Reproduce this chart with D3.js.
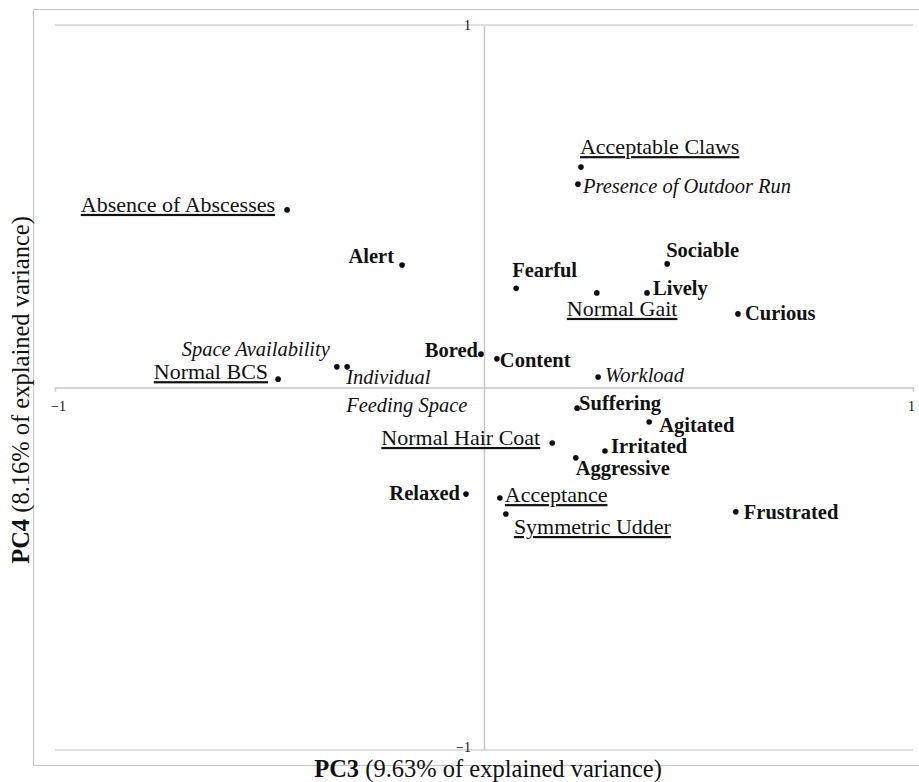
<!DOCTYPE html>
<html>
<head>
<meta charset="utf-8">
<script src="https://cdn.jsdelivr.net/npm/d3@7"></script>
<style>
  body { margin: 0; background: #fff; }
  text { font-family: "Liberation Serif", "Times New Roman", serif; fill: #111; }
</style>
</head>
<body>
<div id="chart"></div>
<script>
// loadings on PC3 / PC4
var names = ["Acceptable Claws", "Presence of Outdoor Run", "Absence of Abscesses", "Alert",
  "Sociable", "Fearful", "Normal Gait", "Lively", "Curious", "Bored", "Content",
  "Space Availability", "Individual Feeding Space", "Normal BCS", "Workload", "Suffering",
  "Agitated", "Normal Hair Coat", "Irritated", "Aggressive", "Relaxed", "Acceptance",
  "Symmetric Udder", "Frustrated"];
var pc3 = [0.226, 0.219, -0.459, -0.191, 0.427, 0.075, 0.263, 0.380, 0.592, -0.007, 0.030,
  -0.343, -0.319, -0.480, 0.266, 0.217, 0.385, 0.159, 0.282, 0.214, -0.042, 0.037, 0.051, 0.587];
var pc4 = [0.608, 0.561, 0.490, 0.338, 0.341, 0.274, 0.261, 0.261, 0.203, 0.092, 0.079,
  0.057, 0.057, 0.023, 0.029, -0.057, -0.095, -0.153, -0.175, -0.194, -0.294, -0.305, -0.349, -0.343];
// q = QBA term (bold), a = animal-based measure (underlined), r = resource-based (italic)
var kind = ["a", "r", "a", "q", "q", "q", "a", "q", "q", "q", "q",
  "r", "r", "a", "r", "q", "q", "a", "q", "q", "q", "a", "a", "q"];
var axisTicks = [-1, 1];
var xTitle = ["PC3", " (9.63% of explained variance)"];
var yTitle = ["PC4", " (8.16% of explained variance)"];

// label placement: anchor, dx, dy
var labelPos = {
  "Acceptable Claws": ["start", -1, -13],
  "Presence of Outdoor Run": ["start", 5, 9],
  "Absence of Abscesses": ["end", -12, 2],
  "Alert": ["end", -8, -2],
  "Sociable": ["start", -1, -7],
  "Fearful": ["start", -4, -11],
  "Normal Gait": ["start", -30, 23],
  "Lively": ["start", 6, 2],
  "Curious": ["start", 7, 6],
  "Bored": ["end", -3, 3],
  "Content": ["start", 3, 8],
  "Space Availability": ["end", -7, -11],
  "Individual Feeding Space": ["start", -1, 17],
  "Normal BCS": ["end", -10, 0],
  "Workload": ["start", 7, 5],
  "Suffering": ["start", 2, 2],
  "Agitated": ["start", 10, 10],
  "Normal Hair Coat": ["end", -12, 2],
  "Irritated": ["start", 6, 2],
  "Aggressive": ["start", 0, 17],
  "Relaxed": ["end", -6, 6],
  "Acceptance": ["start", 5, 4],
  "Symmetric Udder": ["start", 8, 20],
  "Frustrated": ["start", 8, 7]
};
var fontByKind = { q: "20.5px", a: "22px", r: "20.5px" };

var width = 919, height = 782;

var svg = d3.select("#chart").append("svg")
  .attr("width", width)
  .attr("height", height);

var x = d3.scaleLinear().domain([-1, 1]).range([55, 913]);
var y = d3.scaleLinear().domain([-1, 1]).range([750, 25]);

// outer frame
svg.append("rect")
  .attr("x", 33.5).attr("y", 9.5)
  .attr("width", 900).attr("height", 756)
  .attr("fill", "none")
  .attr("stroke", "#c4c4c4");

// horizontal gridlines at +-1
svg.selectAll(".grid").data(axisTicks).enter().append("line")
  .attr("class", "grid")
  .attr("x1", x(-1)).attr("x2", x(1))
  .attr("y1", function (d) { return y(d); })
  .attr("y2", function (d) { return y(d); })
  .attr("stroke", "#d4d4d4")
  .attr("stroke-width", 1.5);

// x axis through origin
var xAxis = svg.append("g")
  .attr("transform", "translate(0," + y(0) + ")")
  .call(d3.axisBottom(x).tickValues(axisTicks).tickSize(4).tickPadding(10).tickFormat(d3.format("d")));

// y axis through origin
var yAxis = svg.append("g")
  .attr("transform", "translate(" + x(0) + ",0)")
  .call(d3.axisLeft(y).tickValues(axisTicks).tickSize(0).tickPadding(13).tickFormat(d3.format("d")));

[xAxis, yAxis].forEach(function (g) {
  g.select(".domain").attr("stroke", "#c8c8c8").attr("stroke-width", 1.5);
  g.selectAll(".tick line").attr("stroke", "#c8c8c8");
  g.selectAll(".tick text")
    .attr("font-size", 14)
    .style("font-family", "'Liberation Serif', serif")
    .attr("fill", "#333");
});
yAxis.selectAll(".tick text").attr("dy", function (d) { return d > 0 ? "0.3em" : "0.1em"; });
xAxis.selectAll(".tick text").attr("dx", function (d) { return d < 0 ? 3 : -2; });

// points
var pts = names.map(function (n, i) {
  return { name: n, x: pc3[i], y: pc4[i], kind: kind[i] };
});

svg.selectAll(".dot").data(pts).enter().append("circle")
  .attr("class", "dot")
  .attr("cx", function (d) { return x(d.x); })
  .attr("cy", function (d) { return y(d.y); })
  .attr("r", 2.8)
  .attr("fill", "#0b0b1a");

var labels = svg.selectAll(".lab").data(pts).enter().append("text")
  .attr("class", "lab")
  .attr("x", function (d) { return x(d.x) + labelPos[d.name][1]; })
  .attr("y", function (d) { return y(d.y) + labelPos[d.name][2]; })
  .attr("text-anchor", function (d) { return labelPos[d.name][0]; })
  .style("font-size", function (d) { return fontByKind[d.kind]; })
  .style("font-weight", function (d) { return d.kind === "q" ? "bold" : "normal"; })
  .style("font-style", function (d) { return d.kind === "r" ? "italic" : "normal"; })
  .style("text-decoration", function (d) { return d.kind === "a" ? "underline" : "none"; });

labels.each(function (d) {
  var t = d3.select(this);
  if (d.name === "Individual Feeding Space") {
    var px = x(d.x) + labelPos[d.name][1];
    t.append("tspan").attr("x", px).text("Individual");
    t.append("tspan").attr("x", px).attr("dy", 28).text("Feeding Space");
  } else {
    t.text(d.name);
  }
});

// axis titles
var xt = svg.append("text")
  .attr("x", x(0) + 4).attr("y", 777)
  .attr("text-anchor", "middle")
  .style("font-size", "24.5px");
xt.append("tspan").style("font-weight", "bold").text(xTitle[0]);
xt.append("tspan").text(xTitle[1]);

var yt = svg.append("text")
  .attr("transform", "translate(29," + 390 + ") rotate(-90)")
  .attr("text-anchor", "middle")
  .style("font-size", "24.5px");
yt.append("tspan").style("font-weight", "bold").text(yTitle[0]);
yt.append("tspan").text(yTitle[1]);
</script>
</body>
</html>
